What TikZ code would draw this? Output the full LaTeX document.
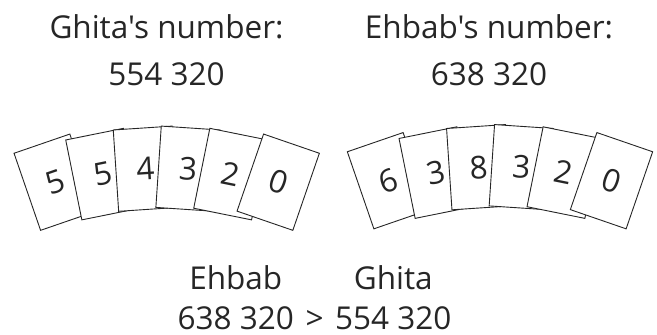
\documentclass[tikz,border=0pt]{standalone}
\usepackage{fontspec}
\setmainfont{Open Sans}[Ligatures=TeXOff]
\newcommand{\numfont}{\fontsize{31.5pt}{36pt}\selectfont}

\begin{document}
\begin{tikzpicture}[x=1pt,y=1pt,
  every node/.style={inner sep=0pt,outer sep=0pt,text=black!85},
  card/.style={draw=black!85,fill=white,line width=0.9pt,
    minimum width=59pt,minimum height=81.5pt,font=\numfont}]
  \path[use as bounding box] (0,0) rectangle (657,335);  % 源画布 657×335px
  % ---- 标题：anchor=base（y＝源图基线）；撇号为直撇 ----
  \node[anchor=base,font=\numfont] (ghead) at (166.5,296) {Ghita's number:};
  \node[anchor=base,font=\numfont] (gnum)  at (166.5,249) {554 320};
  \node[anchor=base,font=\numfont] (ehead) at (489.0,296) {Ehbab's number:};
  \node[anchor=base,font=\numfont] (enum)  at (489.0,249) {638 320};
  % ---- 卡片：中心相对组中心 x，转角 ±3.8/±11.4/±19（逐张实测）----
  \foreach \i/\dx/\cy/\r/\d in {1/-111.5/152.8/19/5, 2/-64.0/160.9/11.4/5,
      3/-21.3/166.3/3.8/4, 4/21.3/166.3/-3.8/3, 5/64.0/160.9/-11.4/2,
      6/111.5/152.8/-19/0}
    \node[card,rotate=\r] (gcard\i) at (166.7+\dx,\cy) {\d};
  \foreach \i/\dx/\cy/\r/\d in {1/-111.5/154.3/19/6, 2/-64.0/162.4/11.4/3,
      3/-21.3/167.8/3.8/8, 4/21.3/167.8/-3.8/3, 5/64.0/162.4/-11.4/2,
      6/111.5/154.3/-19/0}
    \node[card,rotate=\r] (ecard\i) at (500.0+\dx,\cy) {\d};
  % ---- 比较式：名字居中于各自数字上方 ----
  \node[anchor=base,font=\numfont] (ecmp) at (235.8,5.5) {638 320};
  \node[anchor=base,font=\numfont] (gtsign) at (314.7,5.5) {>};
  \node[anchor=base,font=\numfont] (gcmp) at (393.3,5.5) {554 320};
  \node[anchor=base,font=\numfont] (ename) at (235.8,45) {Ehbab};
  \node[anchor=base,font=\numfont] (gname) at (393.3,45) {Ghita};
\end{tikzpicture}
\end{document}
